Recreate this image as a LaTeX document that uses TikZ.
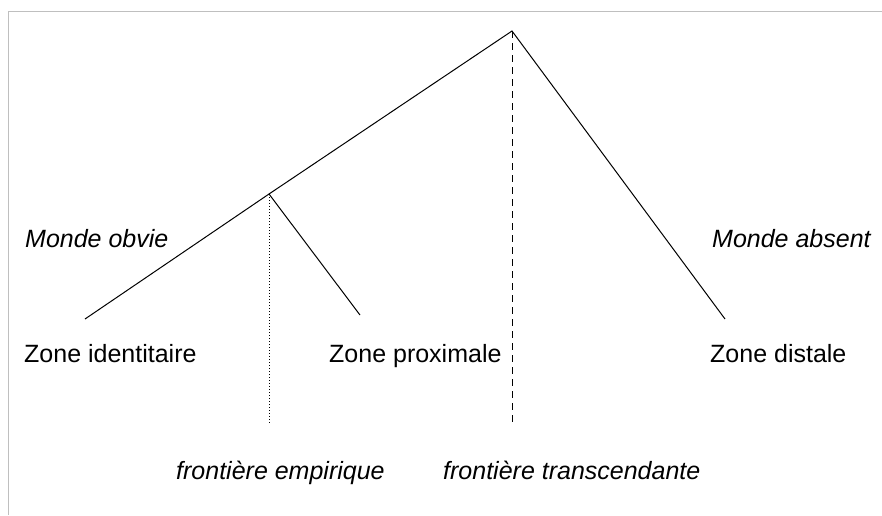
\documentclass[tikz,border=0pt]{standalone}
\usepackage{fontspec}
\setmainfont{Liberation Sans}

\begin{document}
\begin{tikzpicture}[
    x=1pt, y=-1pt,
    branch/.style={line width=1pt, color=black},
    frontier/.style={line width=1pt, color=black, dash pattern=on 7pt off 5pt},
    boundary/.style={line width=1pt, color=black, dash pattern=on 1pt off 2pt},
    zone/.style={anchor=base west, inner sep=0pt, font=\fontsize{25}{30}\selectfont},
    world/.style={anchor=base west, inner sep=0pt, font=\fontsize{25}{30}\selectfont\itshape},
  ]
  \useasboundingbox (0,0) rectangle (882,515);
  % frame
  \draw[color=black!25, line width=1pt] (8,515) -- (8,11) -- (882,11);

  % tree points
  \coordinate (top) at (512,31);
  \coordinate (fork) at (269,194);
  \coordinate (ident) at (85,319);
  \coordinate (prox) at (360,315);
  \coordinate (dist) at (725,319);
  \coordinate (empend) at (269,423);
  \coordinate (transend) at (512,423);

  \draw[branch] (ident) -- (fork) -- (top) -- (dist);
  \draw[branch] (fork) -- (prox);
  \draw[boundary] (fork) -- (empend);
  \draw[frontier] (top) -- (transend);

  % labels
  \node[world] (obvie) at (25,247) {Monde obvie};
  \node[world] (absent) at (712,247) {Monde absent};
  \node[zone] (zid) at (24,362) {Zone identitaire};
  \node[zone] (zprox) at (329,362) {Zone proximale};
  \node[zone] (zdist) at (710,362) {Zone distale};
  \node[world] (femp) at (176,479) {frontière empirique};
  \node[world] (ftrans) at (443,479) {frontière transcendante};
\end{tikzpicture}
\end{document}
